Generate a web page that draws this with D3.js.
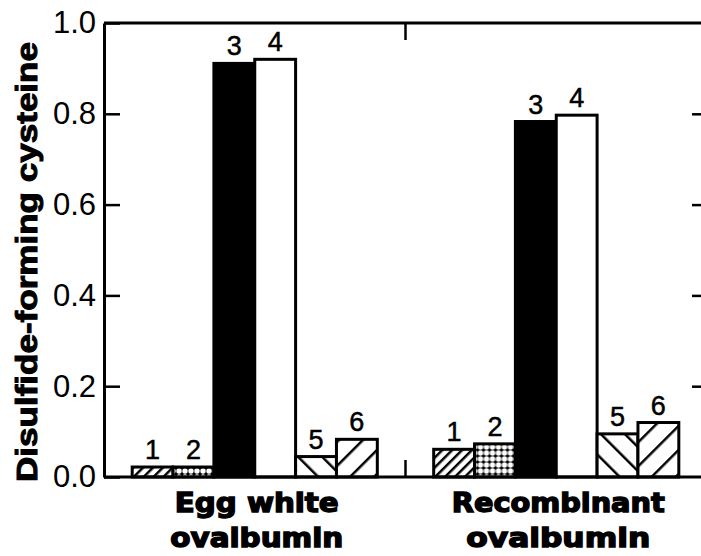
<!DOCTYPE html>
<html>
<head>
<meta charset="utf-8">
<script src="https://cdn.jsdelivr.net/npm/d3@7"></script>
<style>
  body { margin: 0; background: #fff; }
  svg { display: block; }
</style>
</head>
<body>
<svg id="chart" width="701" height="556"></svg>
<script>
// chart values
const groups = ['Egg white ovalbumin', 'Recombinant ovalbumin'];
const groupLines = [['Egg white', 'ovalbumin'], ['Recombinant', 'ovalbumin']];
const barIds = ['1', '2', '3', '4', '5', '6'];
const eggWhite = [0.022, 0.022, 0.911, 0.920, 0.045, 0.083];
const recombinant = [0.061, 0.073, 0.783, 0.797, 0.095, 0.120];
const yTicks = [0, 0.2, 0.4, 0.6, 0.8, 1.0];
const yTitle = 'Disulfide-forming cysteine';

const seriesByGroup = [eggWhite, recombinant];
const fills = ['url(#hatchFine)', 'url(#dots)', '#000', '#fff', 'url(#hatchBack)', 'url(#hatchWide)'];

const svg = d3.select('#chart');
const plotLeft = 104, plotRight = 707, plotTop = 23, plotBottom = 477;

const y = d3.scaleLinear().domain([0, 1]).range([plotBottom, plotTop]);
const xGroup = d3.scaleBand().domain(groups).range([plotLeft, plotRight]).padding(0);
const xBar = d3.scaleBand().domain(barIds).range([0, xGroup.bandwidth()])
    .paddingInner(0).paddingOuter(0.69);

// fill patterns
const defs = svg.append('defs');

const fine = defs.append('pattern').attr('id', 'hatchFine')
    .attr('patternUnits', 'userSpaceOnUse').attr('width', 7).attr('height', 7)
    .attr('patternTransform', 'rotate(45)');
fine.append('rect').attr('width', 7).attr('height', 7).attr('fill', '#fff');
fine.append('line').attr('x1', 0).attr('y1', 0).attr('x2', 0).attr('y2', 7)
    .attr('stroke', '#000').attr('stroke-width', 5);

const wide = defs.append('pattern').attr('id', 'hatchWide')
    .attr('patternUnits', 'userSpaceOnUse').attr('width', 17).attr('height', 17)
    .attr('patternTransform', 'rotate(45)');
wide.append('rect').attr('width', 17).attr('height', 17).attr('fill', '#fff');
wide.append('line').attr('x1', 0).attr('y1', 0).attr('x2', 0).attr('y2', 17)
    .attr('stroke', '#000').attr('stroke-width', 5);

const back = defs.append('pattern').attr('id', 'hatchBack')
    .attr('patternUnits', 'userSpaceOnUse').attr('width', 17).attr('height', 17)
    .attr('patternTransform', 'rotate(-45)');
back.append('rect').attr('width', 17).attr('height', 17).attr('fill', '#fff');
back.append('line').attr('x1', 0).attr('y1', 0).attr('x2', 0).attr('y2', 17)
    .attr('stroke', '#000').attr('stroke-width', 5);

const dots = defs.append('pattern').attr('id', 'dots')
    .attr('patternUnits', 'userSpaceOnUse').attr('width', 6).attr('height', 6);
dots.append('rect').attr('width', 6).attr('height', 6).attr('fill', '#000');
dots.append('circle').attr('cx', 3).attr('cy', 3).attr('r', 2.7).attr('fill', '#fff');

// bars
const groupG = svg.selectAll('g.group')
    .data(groups)
    .join('g')
    .attr('class', 'group')
    .attr('transform', d => `translate(${xGroup(d)},0)`);

groupG.each(function(g, gi) {
    const values = seriesByGroup[gi];
    const sel = d3.select(this);
    sel.selectAll('rect.bar')
        .data(values)
        .join('rect')
        .attr('class', 'bar')
        .attr('x', (d, i) => xBar(barIds[i]))
        .attr('y', d => y(d))
        .attr('width', xBar.bandwidth())
        .attr('height', d => y(0) - y(d))
        .attr('fill', (d, i) => fills[i])
        .attr('stroke', '#000')
        .attr('stroke-width', 3);

    sel.selectAll('text.num')
        .data(values)
        .join('text')
        .attr('class', 'num')
        .attr('x', (d, i) => xBar(barIds[i]) + xBar.bandwidth() / 2)
        .attr('y', d => y(d) - 8)
        .attr('text-anchor', 'middle')
        .attr('stroke', '#000')
        .attr('stroke-width', 0.5)
        .style('font-family', '"Liberation Sans", Arial, sans-serif')
        .style('font-size', '27px')
        .text((d, i) => barIds[i]);
});

// left axis
const yAxis = d3.axisLeft(y).tickValues(yTicks)
    .tickFormat(d3.format('.1f'))
    .tickSizeInner(-16).tickSizeOuter(0).tickPadding(8);
const yAxisG = svg.append('g').attr('transform', `translate(${plotLeft},0)`).call(yAxis);
yAxisG.select('.domain').attr('stroke-width', 3);
yAxisG.selectAll('.tick line').attr('stroke-width', 2.5);
yAxisG.selectAll('.tick text')
    .style('font-family', '"Liberation Sans", Arial, sans-serif')
    .style('font-size', '31px')
    .attr('fill', '#000');

// right axis (ticks only)
const yAxisR = d3.axisRight(y).tickValues(yTicks.filter(t => t > 0 && t < 1))
    .tickFormat('').tickSizeInner(-15).tickSizeOuter(0);
const yAxisRG = svg.append('g').attr('transform', `translate(${plotRight},0)`).call(yAxisR);
yAxisRG.select('.domain').attr('stroke-width', 3);
yAxisRG.selectAll('.tick line').attr('stroke-width', 2.5);

// top and bottom frame lines
svg.append('line').attr('x1', plotLeft).attr('x2', plotRight).attr('y1', y(1)).attr('y2', y(1))
    .attr('stroke', '#000').attr('stroke-width', 3);
svg.append('line').attr('x1', plotLeft).attr('x2', plotRight).attr('y1', y(0)).attr('y2', y(0))
    .attr('stroke', '#000').attr('stroke-width', 3);

// category divider ticks
const divX = xGroup(groups[1]);
svg.append('line').attr('x1', divX).attr('x2', divX).attr('y1', y(1)).attr('y2', y(1) + 17)
    .attr('stroke', '#000').attr('stroke-width', 2.5);
svg.append('line').attr('x1', divX).attr('x2', divX).attr('y1', y(0)).attr('y2', y(0) - 17)
    .attr('stroke', '#000').attr('stroke-width', 2.5);

// category labels
const catWidths = [[164, 173], [213, 184]];
groupLines.forEach((lines, gi) => {
    const cx = xGroup(groups[gi]) + xGroup.bandwidth() / 2 + 2;
    lines.forEach((txt, li) => {
        svg.append('text')
            .attr('x', cx)
            .attr('y', 512 + li * 35)
            .attr('text-anchor', 'middle')
            .attr('textLength', catWidths[gi][li])
            .attr('lengthAdjust', 'spacingAndGlyphs')
            .attr('stroke', '#000')
            .attr('stroke-width', 1.4)
            .style('font-family', '"DejaVu Sans", sans-serif')
            .style('font-weight', 'bold')
            .style('font-size', '26px')
            .text(txt);
    });
});

// y axis title
svg.append('text')
    .attr('transform', `translate(37,${(plotTop + plotBottom) / 2 + 12}) rotate(-90)`)
    .attr('text-anchor', 'middle')
    .attr('textLength', 440)
    .attr('lengthAdjust', 'spacingAndGlyphs')
    .attr('stroke', '#000')
    .attr('stroke-width', 1)
    .style('font-family', '"Liberation Sans", Arial, sans-serif')
    .style('font-weight', 'bold')
    .style('font-size', '29px')
    .text(yTitle);
</script>
</body>
</html>
